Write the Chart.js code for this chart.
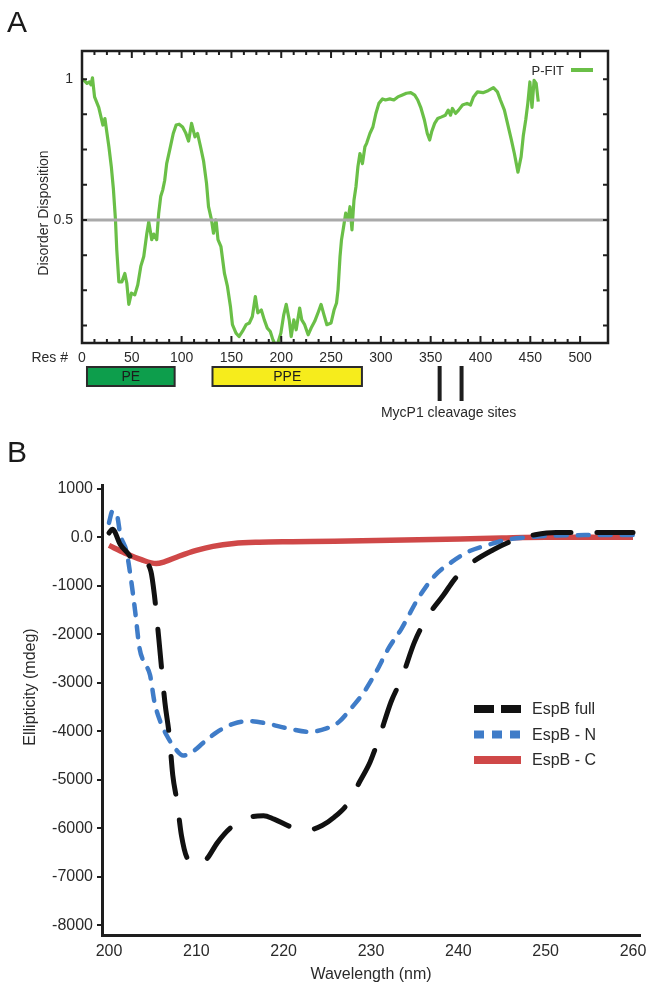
<!DOCTYPE html>
<html>
<head>
<meta charset="utf-8">
<script src="https://cdn.jsdelivr.net/npm/chart.js@4.4.1/dist/chart.umd.min.js"></script>
<style>
  body { margin: 0; background: #fff; width: 654px; height: 995px; position: relative; overflow: hidden;
         font-family: "Liberation Sans", Arial, sans-serif; }
  .panel { position: absolute; left: 0; width: 654px; }
  #wrapA { top: 0; height: 430px; }
  #wrapB { top: 430px; height: 565px; }
  .tag { position: absolute; left: 7px; font-size: 30px; line-height: 1; color: #1a1a1a; }
</style>
</head>
<body>
<div class="panel" id="wrapA"><canvas id="chartA" width="654" height="430"></canvas></div>
<div class="panel" id="wrapB"><canvas id="chartB" width="654" height="565"></canvas></div>
<div class="tag" style="top:7px">A</div>
<div class="tag" style="top:437px">B</div>

<script>
// ---- panel A data: disorder prediction ----
const residues = [0,2,5,7.5,9,10.5,12.6,16.8,21,23,25,27,29.4,31.5,33.6,34.9,37,40,43,45,
  47,49.6,53,56,59,62,65,67,70,72,75,77,79,81,83,85,88,91.6,94.5,97.5,
  101,104,107,110,113.4,116,119,122,125,127,130,132,134.5,136.5,139.5,143,146,149,151,154.6,
  157.6,161,164.7,168,171,174,176.5,180,183,186,189,191.6,194,196.6,199.6,202.5,205,208,210,212.6,
  215,218.5,220.6,223.5,227,230,233.6,237.4,240,242.9,245.8,250,253,255.5,257,259,260.5,262.6,264.7,267,
  269,271,273,275,277,279,281.5,284,285.7,289,292,295,298,301.7,304.6,309,313,317,321,325.6,
  330,334,337,340,343.7,346.6,349,351,354,357,361,364.7,367.6,370,371.8,375,378,382,386.5,390,
  393,397,402.5,407.6,413,417,420,424,428,431,434,437.6,440.8,443,445.4,447.5,449.6,451.7,453.8,455.9,458];
const pfit = [1.0,0.996,0.985,0.99,0.98,1.005,0.937,0.90,0.837,0.86,0.81,0.76,0.69,0.61,0.50,0.394,0.28,0.28,0.31,0.275,
  0.20,0.24,0.234,0.27,0.335,0.37,0.45,0.494,0.43,0.45,0.43,0.524,0.583,0.606,0.64,0.70,0.748,0.807,0.837,0.84,
  0.83,0.81,0.78,0.843,0.795,0.807,0.76,0.71,0.63,0.547,0.5,0.453,0.5,0.43,0.405,0.31,0.264,0.193,0.128,0.098,
  0.086,0.104,0.128,0.134,0.157,0.228,0.17,0.18,0.145,0.116,0.104,0.075,0.057,0.063,0.098,0.163,0.20,0.145,0.086,0.145,
  0.11,0.187,0.145,0.128,0.092,0.116,0.14,0.175,0.20,0.163,0.128,0.134,0.18,0.205,0.252,0.37,0.43,0.476,0.524,0.5,
  0.547,0.465,0.57,0.618,0.69,0.736,0.70,0.76,0.772,0.807,0.83,0.878,0.914,0.93,0.926,0.93,0.926,0.937,0.943,0.95,
  0.952,0.943,0.926,0.90,0.855,0.807,0.784,0.813,0.843,0.86,0.866,0.872,0.89,0.872,0.896,0.878,0.89,0.908,0.914,0.908,
  0.937,0.955,0.952,0.959,0.97,0.955,0.926,0.89,0.83,0.784,0.736,0.67,0.725,0.80,0.855,0.914,0.99,0.90,0.996,0.985,0.92];
const cutoffX = [0, 528];
const cutoffY = [0.5, 0.5];
const resTicks = [];
for (let v = 0; v <= 500; v += 12.5) resTicks.push(v);
const disorderTicks = [0.125, 0.25, 0.375, 0.5, 0.625, 0.75, 0.875, 1];
const domainNames = ['PE', 'PPE'];
const domainStart = [5, 131];
const domainEnd = [93, 281];
const cleavageSites = [359, 381];

// ---- panel B data: CD spectra ----
const fullNm = [200,200.4,201.3,202.3,203,204,204.8,205.2,205.7,206.4,206.9,207.3,207.8,208.3,209,210.2,211.2,212.4,214,216.2,
  217.7,218.9,221,222.9,224.4,225.8,227.5,228.7,229.9,230.9,232.3,233.5,235,236.6,238.3,239.5,241.2,244,246.5,248.8,251.2,254.6,260];
const fullMdeg = [90,170,-150,-360,-570,-520,-700,-1190,-2080,-3400,-4080,-4900,-5460,-6150,-6630,-6750,-6630,-6300,-5980,-5770,
  -5740,-5810,-5980,-6030,-5940,-5770,-5450,-5040,-4630,-4150,-3390,-2910,-2150,-1600,-1190,-880,-570,-255,-50,55,100,100,100];
const nNm = [200,200.4,200.9,201.3,202,202.5,203,203.5,204,204.7,205.2,205.9,206.6,207.6,208.5,209.5,210.9,212.4,214.3,216.2,
  218.1,220.5,222.9,224.9,226.3,227.7,229.2,230.6,232,233.5,235.4,237.3,239.3,241.2,243.5,245.5,247.9,251.2,260];
const nMdeg = [300,540,470,55,-290,-840,-1530,-2290,-2570,-2840,-3390,-3810,-4080,-4360,-4500,-4430,-4220,-4010,-3840,-3790,
  -3840,-3940,-4010,-3940,-3810,-3530,-3190,-2770,-2290,-1880,-1260,-790,-500,-290,-150,-50,0,40,50];
const cNm = [200,201.8,203.7,205.4,206.4,208,210,211.9,214.3,217.2,221,225.8,230.6,235.4,240.2,245,250,260];
const cMdeg = [-165,-320,-460,-540,-500,-390,-270,-185,-125,-100,-90,-80,-65,-50,-35,-15,0,0];
const nmTicks = [200, 210, 220, 230, 240, 250, 260];
const mdegTicks = [1000, 0, -1000, -2000, -3000, -4000, -5000, -6000, -7000, -8000];
const seriesNames = ['EspB full', 'EspB - N', 'EspB - C'];

const INK = '#1e1e1e';
const TEXT = '#2a2a2a';
Chart.defaults.font.family = '"Liberation Sans", Arial, sans-serif';
Chart.defaults.color = TEXT;

function pts(xs, ys) { return xs.map((x, i) => ({ x: x, y: ys[i] })); }

// inward ticks, frame, legend and domain map under the axis
const frameA = {
  id: 'frameA',
  afterDraw(chart) {
    const { ctx, chartArea: a, scales: { x, y } } = chart;
    ctx.save();
    ctx.strokeStyle = INK;
    ctx.lineWidth = 2;
    ctx.beginPath();
    x.ticks.forEach(t => {
      const px = x.getPixelForValue(t.value);
      const len = t.value % 50 === 0 ? 7 : 4;
      ctx.moveTo(px, a.bottom); ctx.lineTo(px, a.bottom - len);
      ctx.moveTo(px, a.top); ctx.lineTo(px, a.top + len);
    });
    y.ticks.forEach(t => {
      const py = y.getPixelForValue(t.value);
      ctx.moveTo(a.left, py); ctx.lineTo(a.left + 5, py);
      ctx.moveTo(a.right, py); ctx.lineTo(a.right - 5, py);
    });
    ctx.stroke();
    ctx.lineWidth = 2.5;
    ctx.strokeRect(a.left, a.top, a.width, a.height);

    // legend
    const ds = chart.data.datasets[1];
    ctx.font = '13px "Liberation Sans", Arial, sans-serif';
    ctx.fillStyle = TEXT;
    ctx.textAlign = 'right';
    ctx.textBaseline = 'middle';
    ctx.fillText(ds.label, 564, 71);
    ctx.strokeStyle = ds.borderColor;
    ctx.lineWidth = 4;
    ctx.beginPath(); ctx.moveTo(571, 70); ctx.lineTo(593, 70); ctx.stroke();

    // y title
    ctx.save();
    ctx.translate(44, 213);
    ctx.rotate(-Math.PI / 2);
    ctx.textAlign = 'center';
    ctx.font = '14px "Liberation Sans", Arial, sans-serif';
    ctx.fillText('Disorder Disposition', 0, 0);
    ctx.restore();

    ctx.font = '14px "Liberation Sans", Arial, sans-serif';
    ctx.textAlign = 'right';
    ctx.fillText('Res #', 68, 358);

    // domains
    const fills = ['#0d9e4c', '#f6ec1c'];
    domainNames.forEach((name, i) => {
      const x0 = x.getPixelForValue(domainStart[i]);
      const x1 = x.getPixelForValue(domainEnd[i]);
      ctx.fillStyle = fills[i];
      ctx.fillRect(x0, 367, x1 - x0, 19);
      ctx.strokeStyle = '#2b2b2b';
      ctx.lineWidth = 2;
      ctx.strokeRect(x0, 367, x1 - x0, 19);
      ctx.fillStyle = '#1c1c1c';
      ctx.textAlign = 'center';
      ctx.fillText(name, (x0 + x1) / 2, 377);
    });
    ctx.strokeStyle = INK;
    ctx.lineWidth = 4;
    ctx.beginPath();
    cleavageSites.forEach(r => {
      const px = x.getPixelForValue(r);
      ctx.moveTo(px, 366); ctx.lineTo(px, 401);
    });
    ctx.stroke();
    const mid = x.getPixelForValue((cleavageSites[0] + cleavageSites[1]) / 2);
    ctx.fillStyle = TEXT;
    ctx.textAlign = 'center';
    ctx.fillText('MycP1 cleavage sites', mid - 2, 413);
    ctx.restore();
  }
};

new Chart(document.getElementById('chartA'), {
  type: 'line',
  data: {
    datasets: [
      { label: '0.5', data: pts(cutoffX, cutoffY), borderColor: '#a9a9a9', borderWidth: 3, pointRadius: 0, order: 0 },
      { label: 'P-FIT', data: pts(residues, pfit), borderColor: '#6abf47', borderWidth: 3.2, pointRadius: 0,
        tension: 0, borderJoinStyle: 'round', order: 1 }
    ]
  },
  options: {
    responsive: false,
    animation: false,
    layout: { padding: { left: 0, right: 46, top: 51, bottom: 0 } },
    plugins: { legend: { display: false }, tooltip: { enabled: false } },
    scales: {
      x: {
        type: 'linear', min: 0, max: 528,
        grid: { display: false, drawTicks: false },
        border: { display: false },
        afterBuildTicks: s => { s.ticks = resTicks.map(v => ({ value: v })); },
        afterFit: s => { s.height = 87; },
        ticks: { autoSkip: false, maxRotation: 0, padding: 7, font: { size: 14 },
                 callback: v => (v % 50 === 0 ? String(v) : '') }
      },
      y: {
        min: 0.063, max: 1.1,
        grid: { display: false, drawTicks: false },
        border: { display: false },
        afterBuildTicks: s => { s.ticks = disorderTicks.map(v => ({ value: v })); },
        afterFit: s => { s.width = 82; },
        ticks: { autoSkip: false, padding: 9, font: { size: 14 },
                 callback: v => (v === 1 ? '1' : v === 0.5 ? '0.5' : '') }
      }
    }
  },
  plugins: [frameA]
});

// ---- panel B ----
const legendDash = [[20, 7], [10, 8], []];
const legendB = {
  id: 'legendB',
  afterDraw(chart) {
    const ctx = chart.ctx;
    ctx.save();
    chart.data.datasets.forEach((ds, i) => {
      const y = 279 + i * 25.5;
      ctx.strokeStyle = ds.borderColor;
      ctx.lineWidth = 8;
      ctx.lineCap = 'butt';
      ctx.setLineDash(legendDash[i]);
      ctx.beginPath(); ctx.moveTo(474, y); ctx.lineTo(521, y); ctx.stroke();
      ctx.fillStyle = TEXT;
      ctx.font = '16px "Liberation Sans", Arial, sans-serif';
      ctx.textAlign = 'left';
      ctx.textBaseline = 'middle';
      ctx.fillText(ds.label, 532, y + 1);
    });
    ctx.setLineDash([]);
    ctx.translate(31, 257);
    ctx.rotate(-Math.PI / 2);
    ctx.textAlign = 'center';
    ctx.fillText('Ellipticity (mdeg)', 0, 0);
    ctx.restore();
  }
};

new Chart(document.getElementById('chartB'), {
  type: 'line',
  data: {
    datasets: [
      { label: seriesNames[0], data: pts(fullNm, fullMdeg), borderColor: '#111111', borderWidth: 5,
        borderDash: [38, 26], borderCapStyle: 'round', cubicInterpolationMode: 'monotone', pointRadius: 0 },
      { label: seriesNames[1], data: pts(nNm, nMdeg), borderColor: '#3f7cc8', borderWidth: 4.5,
        borderDash: [11, 11], borderCapStyle: 'round', cubicInterpolationMode: 'monotone', pointRadius: 0 },
      { label: seriesNames[2], data: pts(cNm, cMdeg), borderColor: '#cf4848', borderWidth: 5.5,
        cubicInterpolationMode: 'monotone', pointRadius: 0 }
    ]
  },
  options: {
    responsive: false,
    animation: false,
    layout: { padding: { left: 0, right: 14, top: 55, bottom: 0 } },
    plugins: { legend: { display: false }, tooltip: { enabled: false } },
    scales: {
      x: {
        type: 'linear', min: 199.2, max: 260.8,
        grid: { display: false, drawTicks: false },
        border: { color: INK, width: 3 },
        afterBuildTicks: s => { s.ticks = nmTicks.map(v => ({ value: v })); },
        afterFit: s => { s.height = 60; },
        ticks: { autoSkip: false, maxRotation: 0, padding: 7, font: { size: 16 } },
        title: { display: true, text: 'Wavelength (nm)', font: { size: 16 }, padding: { bottom: 11 } }
      },
      y: {
        min: -8200, max: 1080,
        grid: { drawOnChartArea: false, tickLength: 5, color: INK, lineWidth: 2 },
        border: { color: INK, width: 3 },
        afterBuildTicks: s => { s.ticks = mdegTicks.map(v => ({ value: v })); },
        afterFit: s => { s.width = 102; },
        ticks: { autoSkip: false, padding: 4, font: { size: 16 },
                 callback: v => (v === 0 ? '0.0' : String(v)) }
      }
    }
  },
  plugins: [legendB]
});
</script>
</body>
</html>
